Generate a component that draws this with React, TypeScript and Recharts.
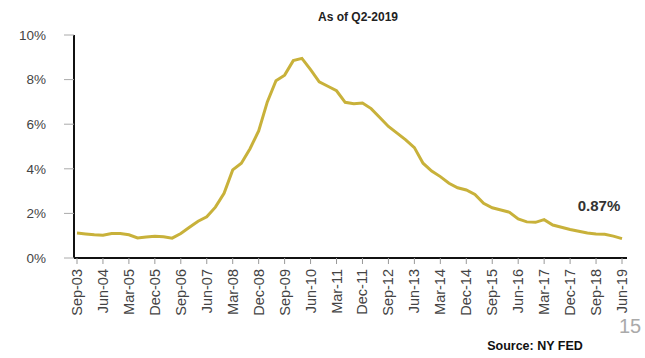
import { LineChart, Line, XAxis, YAxis } from 'recharts'

// quarterly, Sep-03 .. Jun-19
const MONTHS = ['Mar', 'Jun', 'Sep', 'Dec']

const quarters: string[] = []
for (let y = 2003; y <= 2019; y++) {
  for (let q = 0; q < 4; q++) {
    if (y === 2003 && q < 2) continue
    if (y === 2019 && q > 1) continue
    quarters.push(`${MONTHS[q]}-${String(y).slice(2)}`)
  }
}

const rates = [
  1.12, 1.08, 1.04, 1.02, 1.1, 1.1, 1.04, 0.9, 0.94, 0.98, 0.95, 0.89,
  1.1, 1.38, 1.65, 1.85, 2.28, 2.9, 3.95, 4.25, 4.9, 5.7, 7.0, 7.95,
  8.2, 8.85, 8.95, 8.45, 7.9, 7.7, 7.5, 6.98, 6.92, 6.95, 6.7, 6.3,
  5.9, 5.6, 5.3, 4.95, 4.25, 3.9, 3.65, 3.35, 3.15, 3.05, 2.85, 2.45,
  2.25, 2.15, 2.05, 1.75, 1.62, 1.6, 1.72, 1.48, 1.38, 1.28, 1.2, 1.12,
  1.08, 1.06, 0.98, 0.87,
]

const yTicks = [0, 2, 4, 6, 8, 10]

const data = quarters.map((q, i) => ({ q, rate: rates[i] }))

const FONT = '"Liberation Sans", Arial, sans-serif'

const XTick = (props: any) => {
  const { x, y, payload } = props
  return (
    <text
      x={x + 5}
      y={y + 3}
      transform={`rotate(-90, ${x + 5}, ${y + 3})`}
      textAnchor="end"
      fontSize={14.5}
      fill="#444"
      fontFamily={FONT}
    >
      {payload.value}
    </text>
  )
}

export default function App() {
  return (
    <div style={{ position: 'absolute', left: 0, top: 0, width: 645, height: 358, background: '#fff' }}>
      <LineChart
        width={645}
        height={358}
        data={data}
        margin={{ top: 35, right: 18, bottom: 0, left: 0 }}
      >
        <XAxis
          dataKey="q"
          height={100}
          interval={2}
          padding={{ left: 3, right: 5 }}
          stroke="#111"
          strokeWidth={2}
          tickLine={{ stroke: '#999', strokeWidth: 1 }}
          tickSize={6}
          tick={<XTick />}
        />
        <YAxis
          width={74}
          domain={[0, 10]}
          ticks={yTicks}
          tickFormatter={(v) => `${v}%`}
          stroke="#111"
          strokeWidth={2}
          tickLine={{ stroke: '#aaa', strokeWidth: 1 }}
          tickSize={10}
          tickMargin={18}
          tick={{ fill: '#444', fontSize: 13.5, fontFamily: FONT }}
        />
        <Line
          type="linear"
          dataKey="rate"
          stroke="#c8b13a"
          strokeWidth={3}
          dot={false}
          isAnimationActive={false}
        />
        <text x={358} y={21} textAnchor="middle" fontSize={12} fontWeight="bold" fill="#222" fontFamily={FONT}>
          As of Q2-2019
        </text>
        <text x={599} y={211} textAnchor="middle" fontSize={15} fontWeight="bold" fill="#333" fontFamily={FONT}>
          0.87%
        </text>
        <text x={630} y={333} textAnchor="middle" fontSize={20} fill="#aaa" fontFamily={FONT}>
          15
        </text>
        <text x={535} y={350} textAnchor="middle" fontSize={12.5} fontWeight="bold" fill="#111" fontFamily={FONT}>
          Source: NY FED
        </text>
      </LineChart>
    </div>
  )
}
